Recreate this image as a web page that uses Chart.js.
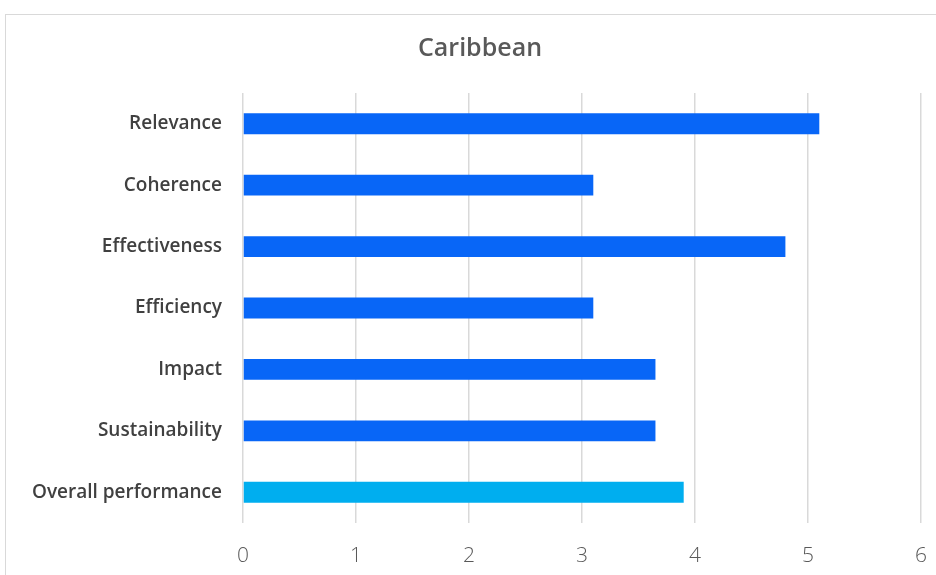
<!DOCTYPE html>
<html>
<head>
<meta charset="utf-8">
<script src="https://cdn.jsdelivr.net/npm/chart.js@4"></script>
<style>
  body { margin: 0; background: #fff; overflow: hidden; }
  #frame { position: absolute; left: 5px; top: 14px; width: 1000px; height: 1000px; border: 1.5px solid #d9d9d9; }
  #wrap { position: absolute; left: 0; top: 0; width: 936px; height: 575px; }
</style>
</head>
<body>
<div id="frame"></div>
<div id="wrap"><canvas id="caribbeanChart" width="936" height="575"></canvas></div>
<script>
const categories = ['Relevance', 'Coherence', 'Effectiveness', 'Efficiency', 'Impact', 'Sustainability', 'Overall performance'];
const scores = [5.1, 3.1, 4.8, 3.1, 3.65, 3.65, 3.9];
const barColors = ['#0866f7', '#0866f7', '#0866f7', '#0866f7', '#0866f7', '#0866f7', '#00aeef'];
const xTicks = [0, 1, 2, 3, 4, 5, 6];

const ctx = document.getElementById('caribbeanChart').getContext('2d');

const caribbeanChart = new Chart(ctx, {
    type: 'bar',
    data: {
        labels: categories,
        datasets: [{
            data: scores,
            backgroundColor: barColors,
            categoryPercentage: 1,
            barPercentage: 0.34
        }]
    },
    options: {
        indexAxis: 'y',
        responsive: false,
        animation: false,
        layout: {
            // left padding also pushes the title over to sit above the frame centre
            padding: { left: 24, right: 0, top: 0, bottom: 0 }
        },
        plugins: {
            legend: { display: false },
            tooltip: { enabled: false },
            title: {
                display: true,
                text: 'Caribbean',
                color: '#595959',
                font: { family: 'Open Sans', size: 25, weight: '600', lineHeight: 1.2 },
                padding: { top: 34, bottom: 29 }
            }
        },
        scales: {
            x: {
                min: 0,
                max: 6,
                afterBuildTicks: (scale) => {
                    scale.ticks = xTicks.map(v => ({ value: v }));
                },
                afterFit: (scale) => {
                    scale.height = 52;
                    scale.paddingRight = 15;
                    scale.paddingLeft = 0;
                },
                grid: { color: '#d9d9d9', lineWidth: 1.5, drawTicks: false },
                border: { display: false },
                ticks: {
                    color: '#595959',
                    padding: 20,
                    font: { family: 'Open Sans', size: 21, weight: '300' }
                }
            },
            y: {
                afterFit: (scale) => { scale.width = 219; },
                grid: { display: false, drawTicks: false },
                border: { display: false },
                ticks: {
                    color: '#404040',
                    padding: 21,
                    font: { family: 'Open Sans', size: 19, weight: '600' }
                }
            }
        }
    }
});
</script>
</body>
</html>
